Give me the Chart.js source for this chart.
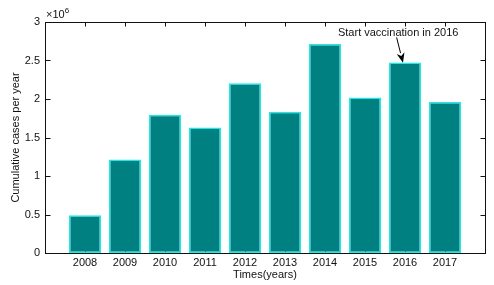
<!DOCTYPE html>
<html>
<head>
<meta charset="utf-8">
<script src="https://cdn.jsdelivr.net/npm/chart.js@4.4.1/dist/chart.umd.min.js"></script>
<style>
  html, body { margin: 0; padding: 0; background: #fff; }
  canvas { display: block; }
</style>
</head>
<body>
<canvas id="chart" width="494" height="285"></canvas>
<script>
// data
const years = [2008, 2009, 2010, 2011, 2012, 2013, 2014, 2015, 2016, 2017];
const cases = [490000, 1215000, 1795000, 1630000, 2205000, 1835000, 2715000, 2020000, 2475000, 1960000];
const yTickLabels = ['0', '0.5', '1', '1.5', '2', '2.5', '3'];
const xTickLabels = years.map(String);

// annotation (in data units)
const noteText = 'Start vaccination in 2016';
const noteAt = [2015.83, 2860000];
const arrowFrom = [2015.79, 2800000];
const arrowTo = [2015.95, 2470000];

const ink = '#111';
const font = { family: 'Liberation Sans, Arial, sans-serif', size: 11 };

// matlab style box, inward ticks, exponent and the arrow note
const axesBox = {
  id: 'axesBox',
  beforeDatasetsDraw(chart) {
    const { ctx, chartArea: a, scales: { x } } = chart;
    ctx.save();
    ctx.strokeStyle = ink;
    ctx.lineWidth = 1;
    ctx.beginPath();
    x.ticks.forEach(t => {
      const px = Math.round(x.getPixelForValue(t.value)) + 0.5;
      ctx.moveTo(px, a.bottom); ctx.lineTo(px, a.bottom - 4);
    });
    ctx.stroke();
    ctx.restore();
  },
  afterDatasetsDraw(chart) {
    const { ctx, chartArea: a, scales: { x, y } } = chart;
    const l = Math.round(a.left) + 0.5, r = Math.round(a.right) + 0.5;
    const t = Math.round(a.top) + 0.5, b = Math.round(a.bottom) + 0.5;
    ctx.save();
    ctx.strokeStyle = ink;
    ctx.lineWidth = 1;
    ctx.strokeRect(l, t, r - l, b - t);
    ctx.beginPath();
    x.ticks.forEach(tk => {
      const px = Math.round(x.getPixelForValue(tk.value)) + 0.5;
      ctx.moveTo(px, t); ctx.lineTo(px, t + 4);
    });
    y.ticks.forEach(tk => {
      const py = Math.round(y.getPixelForValue(tk.value)) + 0.5;
      ctx.moveTo(l, py); ctx.lineTo(l + 5, py);
      ctx.moveTo(r, py); ctx.lineTo(r - 5, py);
    });
    ctx.stroke();

    // exponent label
    ctx.fillStyle = ink;
    ctx.textBaseline = 'alphabetic';
    ctx.textAlign = 'left';
    ctx.font = '11px ' + font.family;
    ctx.fillText('\u00d710', a.left + 1, a.top - 4);
    const w = ctx.measureText('\u00d710').width;
    ctx.font = '8px ' + font.family;
    ctx.fillText('6', a.left + 1 + w, a.top - 9);

    // annotation
    ctx.font = '11px ' + font.family;
    ctx.textAlign = 'center';
    ctx.textBaseline = 'middle';
    ctx.fillText(noteText, x.getPixelForValue(noteAt[0]), y.getPixelForValue(noteAt[1]));

    const x0 = x.getPixelForValue(arrowFrom[0]), y0 = y.getPixelForValue(arrowFrom[1]);
    const x1 = x.getPixelForValue(arrowTo[0]), y1 = y.getPixelForValue(arrowTo[1]);
    const ang = Math.atan2(y1 - y0, x1 - x0);
    const head = 10, half = 4;
    const bx = x1 - head * Math.cos(ang), by = y1 - head * Math.sin(ang);
    ctx.strokeStyle = '#000';
    ctx.lineWidth = 1;
    ctx.beginPath();
    ctx.moveTo(x0, y0); ctx.lineTo(bx, by);
    ctx.stroke();
    ctx.fillStyle = '#000';
    ctx.beginPath();
    ctx.moveTo(x1, y1);
    ctx.lineTo(bx + half * Math.sin(ang), by - half * Math.cos(ang));
    ctx.lineTo(x1 - head * 0.7 * Math.cos(ang), y1 - head * 0.7 * Math.sin(ang));
    ctx.lineTo(bx - half * Math.sin(ang), by + half * Math.cos(ang));
    ctx.closePath();
    ctx.fill();
    ctx.restore();
  }
};

new Chart(document.getElementById('chart'), {
  type: 'bar',
  data: {
    datasets: [{
      data: years.map((yr, i) => ({ x: yr, y: cases[i] })),
      backgroundColor: '#008080',
      borderColor: '#1ee8e8',
      borderWidth: 1.5,
      borderSkipped: false,
      barPercentage: 0.8,
      categoryPercentage: 1
    }]
  },
  options: {
    responsive: false,
    animation: false,
    layout: { padding: { top: 22, right: 9, left: 0, bottom: 0 } },
    plugins: { legend: { display: false }, tooltip: { enabled: false } },
    scales: {
      x: {
        type: 'linear',
        offset: false,
        min: 2007,
        max: 2018,
        afterBuildTicks: s => { s.ticks = years.map(v => ({ value: v })); },
        afterFit: s => { s.height = 32; },
        grid: { display: false, drawTicks: false },
        border: { display: false },
        ticks: {
          autoSkip: false,
          maxRotation: 0,
          padding: 3,
          color: ink,
          font: font,
          callback: (v) => xTickLabels[years.indexOf(v)] ?? ''
        },
        title: {
          display: true,
          text: 'Times(years)',
          color: ink,
          font: font,
          padding: { top: 0, bottom: 3 }
        }
      },
      y: {
        min: 0,
        max: 3000000,
        afterFit: s => { s.width = 45; },
        grid: { display: false, drawTicks: false },
        border: { display: false },
        ticks: {
          stepSize: 500000,
          padding: 5,
          color: ink,
          font: font,
          callback: (v, i) => yTickLabels[i]
        },
        title: {
          display: true,
          text: 'Cumulative cases per year',
          color: ink,
          font: font,
          padding: { top: 9, bottom: 0 }
        }
      }
    }
  },
  plugins: [axesBox]
});
</script>
</body>
</html>
